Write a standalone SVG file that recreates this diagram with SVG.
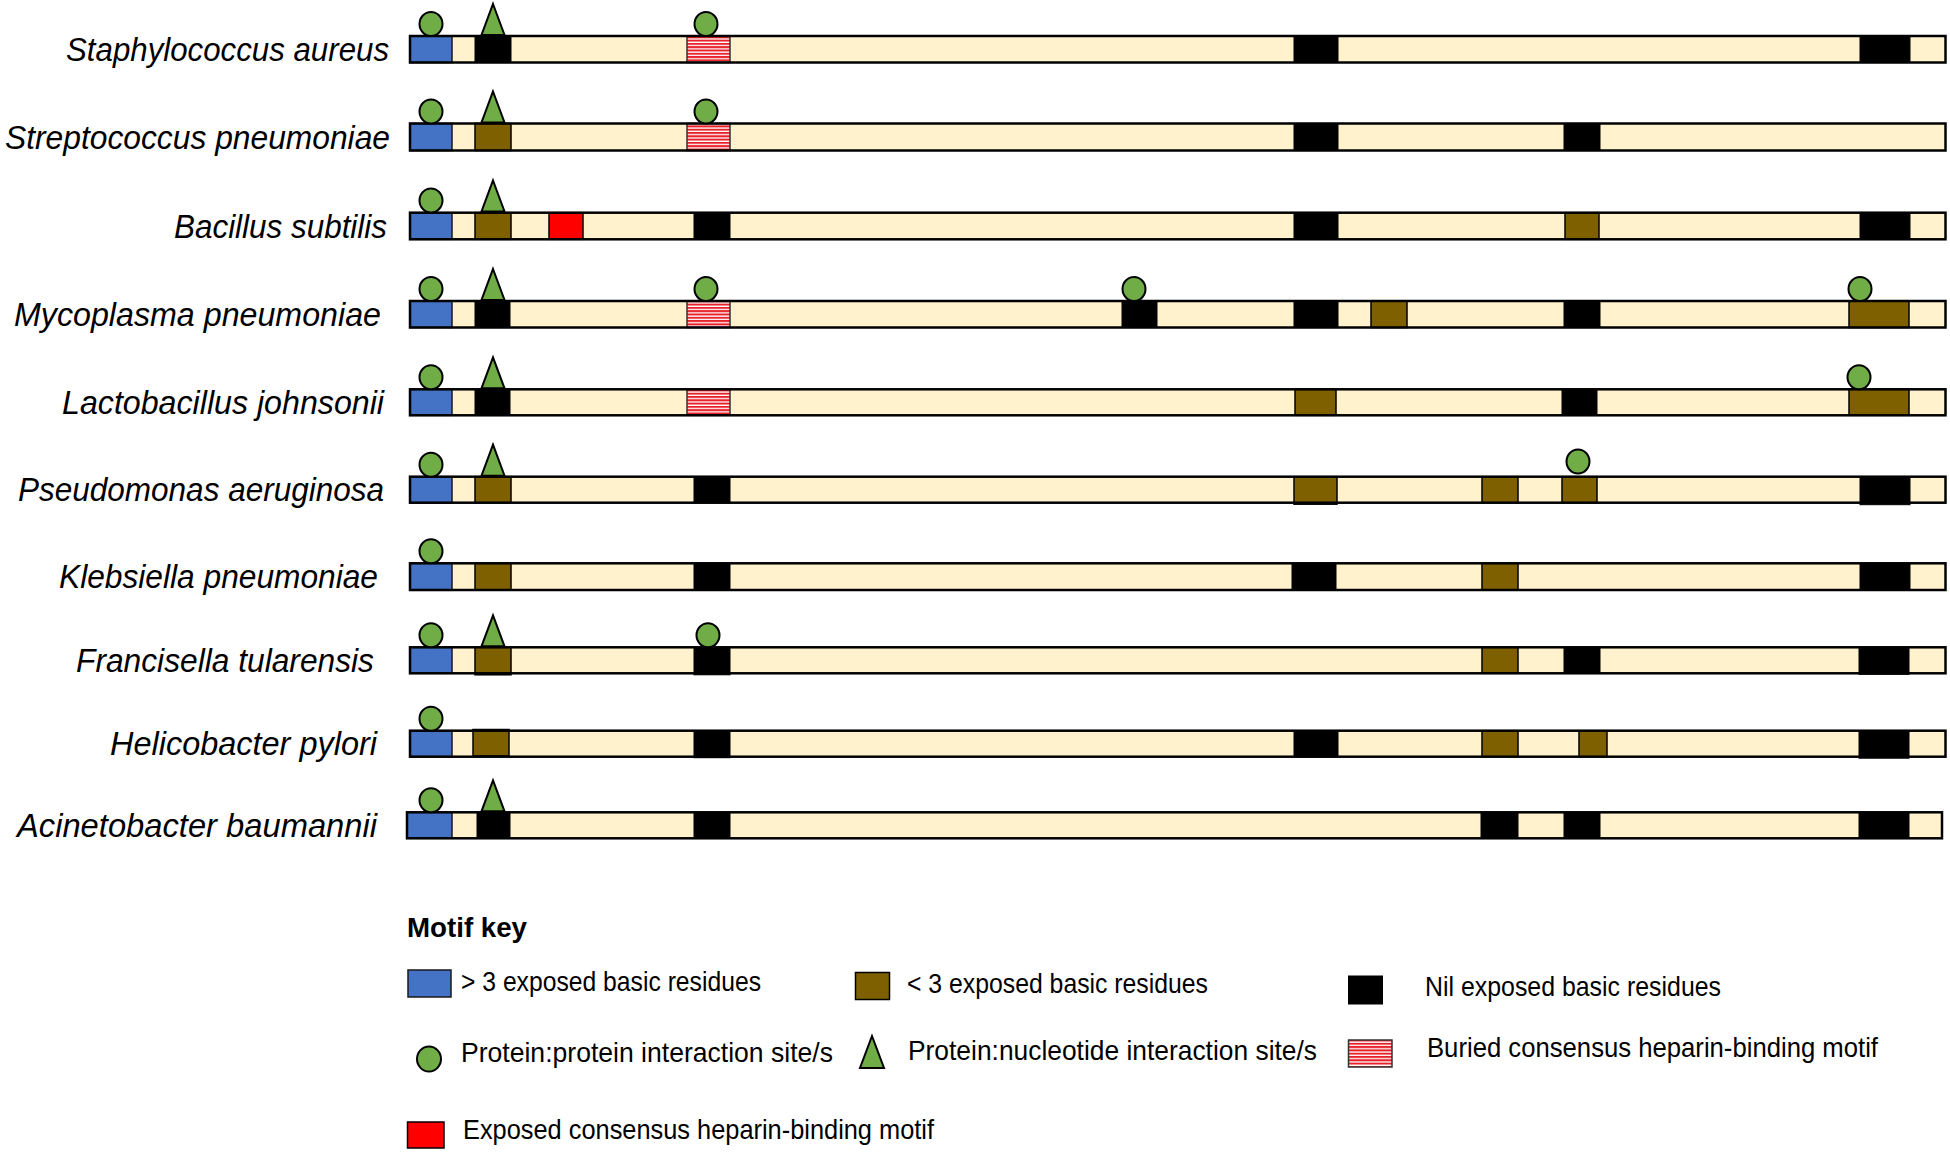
<svg xmlns="http://www.w3.org/2000/svg" xmlns:xlink="http://www.w3.org/1999/xlink" width="1950" height="1153" viewBox="0 0 1950 1153">
<defs>
<pattern id="stripes" patternUnits="userSpaceOnUse" width="10" height="3.3">
<rect x="0" y="0" width="10" height="3.3" fill="#FFFFFF"/>
<rect x="0" y="0" width="10" height="2" fill="#E8202A"/>
</pattern>
<ellipse id="ppi" cx="0" cy="0" rx="11.5" ry="12" class="green"/>
<path id="pni" d="M0,-31 L11.5,0 L-11.5,0 Z" class="green"/>
</defs>
<style>
.bar{fill:#FFF2CC;stroke:none}
.outline{fill:none;stroke:#000;stroke-width:2.5}
.blue{fill:#4472C4;stroke:#1A1A1A;stroke-width:1.5}
.brown{fill:#7F6000;stroke:#000;stroke-width:1.5}
.nil{fill:#000;stroke:#000;stroke-width:1}
.red{fill:#FF0000;stroke:#000;stroke-width:1.5}
.hep{fill:url(#stripes);stroke:#333;stroke-width:1.5}
.green{fill:#70AD47;stroke:#000;stroke-width:2}
.sp{font-family:"Liberation Sans",Arial,sans-serif;font-style:italic;font-size:33px;fill:#000;text-anchor:end}
.key{font-family:"Liberation Sans",Arial,sans-serif;font-size:28px;fill:#000}
.title{font-family:"Liberation Sans",Arial,sans-serif;font-size:28px;font-weight:bold;fill:#000}
</style>
<rect x="0" y="0" width="1950" height="1153" fill="#FFFFFF"/>

<g id="connectors"></g>

<g id="row-staphylococcus-aureus">
<text class="sp" x="389" y="61" textLength="323" lengthAdjust="spacingAndGlyphs">Staphylococcus aureus</text>
<rect class="bar" x="410" y="36" width="1535.5" height="26.5"/>
<rect class="blue" x="410" y="36" width="42" height="26.5"/>
<rect class="nil" x="475" y="36" width="36" height="26.5"/>
<rect class="hep" x="687" y="36" width="43" height="26.5"/>
<rect class="nil" x="1294" y="36" width="44" height="26.5"/>
<rect class="nil" x="1860" y="36" width="50" height="26.5"/>
<rect class="outline" x="410" y="36" width="1535.5" height="26.5"/>
<use xlink:href="#ppi" x="431" y="24"/>
<use xlink:href="#pni" x="493" y="35"/>
<use xlink:href="#ppi" x="706" y="24"/>
</g>

<g id="row-streptococcus-pneumoniae">
<text class="sp" x="390" y="149" textLength="385" lengthAdjust="spacingAndGlyphs">Streptococcus pneumoniae</text>
<rect class="bar" x="410" y="123.5" width="1535.5" height="27"/>
<rect class="blue" x="410" y="123.5" width="42" height="27"/>
<rect class="brown" x="475" y="123.5" width="36" height="27"/>
<rect class="hep" x="687" y="123.5" width="43" height="27"/>
<rect class="nil" x="1294" y="123.5" width="44" height="27"/>
<rect class="nil" x="1564" y="123.5" width="36" height="27"/>
<rect class="outline" x="410" y="123.5" width="1535.5" height="27"/>
<use xlink:href="#ppi" x="431" y="111.5"/>
<use xlink:href="#pni" x="493" y="122.5"/>
<use xlink:href="#ppi" x="706" y="111.5"/>
</g>

<g id="row-bacillus-subtilis">
<text class="sp" x="387" y="237.5" textLength="213" lengthAdjust="spacingAndGlyphs">Bacillus subtilis</text>
<rect class="bar" x="410" y="212.7" width="1535.5" height="26.6"/>
<rect class="blue" x="410" y="212.7" width="42" height="26.6"/>
<rect class="brown" x="475" y="212.7" width="36" height="26.6"/>
<rect class="red" x="549" y="212.7" width="34" height="26.6"/>
<rect class="nil" x="694" y="212.7" width="36" height="26.6"/>
<rect class="nil" x="1294" y="212.7" width="44" height="26.6"/>
<rect class="brown" x="1565" y="212.7" width="34" height="26.6"/>
<rect class="nil" x="1860" y="212.7" width="50" height="26.6"/>
<rect class="outline" x="410" y="212.7" width="1535.5" height="26.6"/>
<use xlink:href="#ppi" x="431" y="200.5"/>
<use xlink:href="#pni" x="493" y="211.5"/>
</g>

<g id="row-mycoplasma-pneumoniae">
<text class="sp" x="381" y="325.5" textLength="367" lengthAdjust="spacingAndGlyphs">Mycoplasma pneumoniae</text>
<rect class="bar" x="410" y="301" width="1535.5" height="26.5"/>
<rect class="blue" x="410" y="301" width="42" height="26.5"/>
<rect class="nil" x="475" y="301" width="35" height="26.5"/>
<rect class="hep" x="687" y="301" width="43" height="26.5"/>
<rect class="nil" x="1122" y="301" width="35" height="26.5"/>
<rect class="nil" x="1294" y="301" width="44" height="26.5"/>
<rect class="brown" x="1371" y="301" width="36" height="26.5"/>
<rect class="nil" x="1564" y="301" width="36" height="26.5"/>
<rect class="brown" x="1849" y="301" width="60" height="26.5"/>
<rect class="outline" x="410" y="301" width="1535.5" height="26.5"/>
<use xlink:href="#ppi" x="431" y="289"/>
<use xlink:href="#pni" x="493" y="300"/>
<use xlink:href="#ppi" x="706" y="289"/>
<use xlink:href="#ppi" x="1134" y="289"/>
<use xlink:href="#ppi" x="1860" y="289"/>
</g>

<g id="row-lactobacillus-johnsonii">
<text class="sp" x="384" y="413.5" textLength="322" lengthAdjust="spacingAndGlyphs">Lactobacillus johnsonii</text>
<rect class="bar" x="410" y="389.3" width="1535.5" height="26"/>
<rect class="blue" x="410" y="389.3" width="42" height="26"/>
<rect class="nil" x="475" y="389.3" width="35" height="26"/>
<rect class="hep" x="687" y="389.3" width="43" height="26"/>
<rect class="brown" x="1295" y="389.3" width="41" height="26"/>
<rect class="nil" x="1562" y="389.3" width="35" height="26"/>
<rect class="brown" x="1849" y="389.3" width="60" height="26"/>
<rect class="outline" x="410" y="389.3" width="1535.5" height="26"/>
<use xlink:href="#ppi" x="431" y="377.3"/>
<use xlink:href="#pni" x="493" y="388.3"/>
<use xlink:href="#ppi" x="1859" y="377.3"/>
</g>

<g id="row-pseudomonas-aeruginosa">
<text class="sp" x="384" y="501" textLength="366" lengthAdjust="spacingAndGlyphs">Pseudomonas aeruginosa</text>
<rect class="bar" x="410" y="476.7" width="1535.5" height="26"/>
<rect class="blue" x="410" y="476.7" width="42" height="26"/>
<rect class="brown" x="475" y="476.7" width="36" height="26"/>
<rect class="nil" x="694" y="476.7" width="36" height="26"/>
<rect class="brown" x="1294" y="476.7" width="43" height="27.5"/>
<rect class="brown" x="1482" y="476.7" width="36" height="26"/>
<rect class="brown" x="1562" y="476.7" width="35" height="26"/>
<rect class="nil" x="1860" y="476.7" width="50" height="28"/>
<rect class="outline" x="410" y="476.7" width="1535.5" height="26"/>
<use xlink:href="#ppi" x="431" y="464.7"/>
<use xlink:href="#pni" x="493" y="475.7"/>
<use xlink:href="#ppi" x="1578" y="461.5"/>
</g>

<g id="row-klebsiella-pneumoniae">
<text class="sp" x="378" y="588" textLength="319" lengthAdjust="spacingAndGlyphs">Klebsiella pneumoniae</text>
<rect class="bar" x="410" y="563.3" width="1535.5" height="26.7"/>
<rect class="blue" x="410" y="563.3" width="42" height="27"/>
<rect class="brown" x="475" y="563.3" width="36" height="26.7"/>
<rect class="nil" x="694" y="563.3" width="36" height="26.7"/>
<rect class="nil" x="1292" y="563.3" width="44" height="26.7"/>
<rect class="brown" x="1482" y="563.3" width="36" height="26.7"/>
<rect class="nil" x="1860" y="563.3" width="50" height="26.7"/>
<rect class="outline" x="410" y="563.3" width="1535.5" height="26.7"/>
<use xlink:href="#ppi" x="431" y="551.3"/>
</g>

<g id="row-francisella-tularensis">
<text class="sp" x="374" y="671.5" textLength="298" lengthAdjust="spacingAndGlyphs">Francisella tularensis</text>
<rect class="bar" x="410" y="647.3" width="1535.5" height="26"/>
<rect class="blue" x="410" y="647.3" width="42" height="26"/>
<rect class="brown" x="475" y="647.3" width="36" height="27.5"/>
<rect class="nil" x="694" y="647.3" width="36" height="27.5"/>
<rect class="brown" x="1482" y="647.3" width="36" height="26"/>
<rect class="nil" x="1564" y="647.3" width="36" height="26"/>
<rect class="nil" x="1859" y="647.3" width="50" height="27"/>
<rect class="outline" x="410" y="647.3" width="1535.5" height="26"/>
<use xlink:href="#ppi" x="431" y="635.3"/>
<use xlink:href="#pni" x="493" y="646.3"/>
<use xlink:href="#ppi" x="708" y="635.3"/>
</g>

<g id="row-helicobacter-pylori">
<text class="sp" x="377" y="755" textLength="267" lengthAdjust="spacingAndGlyphs">Helicobacter pylori</text>
<rect class="bar" x="410" y="730.7" width="1535.5" height="26"/>
<rect class="blue" x="410" y="730.7" width="42" height="26"/>
<rect class="brown" x="473" y="729.5" width="36" height="26.5"/>
<rect class="nil" x="694" y="730.7" width="36" height="27"/>
<rect class="nil" x="1294" y="730.7" width="44" height="26"/>
<rect class="brown" x="1482" y="730.7" width="36" height="26"/>
<rect class="brown" x="1579" y="730.7" width="28" height="26"/>
<rect class="nil" x="1859" y="730.7" width="50" height="27.5"/>
<rect class="outline" x="410" y="730.7" width="1535.5" height="26"/>
<use xlink:href="#ppi" x="431" y="718.7"/>
</g>

<g id="row-acinetobacter-baumannii">
<text class="sp" x="377" y="836.5" textLength="360" lengthAdjust="spacingAndGlyphs">Acinetobacter baumannii</text>
<rect class="bar" x="407" y="812.3" width="1535" height="26"/>
<rect class="blue" x="407" y="812.3" width="45" height="26"/>
<rect class="nil" x="477" y="812.3" width="33" height="26"/>
<rect class="nil" x="694" y="812.3" width="36" height="26"/>
<rect class="nil" x="1481" y="812.3" width="37" height="26"/>
<rect class="nil" x="1564" y="812.3" width="36" height="26"/>
<rect class="nil" x="1859" y="812.3" width="50" height="26"/>
<rect class="outline" x="407" y="812.3" width="1535" height="26"/>
<use xlink:href="#ppi" x="431" y="800.3"/>
<use xlink:href="#pni" x="493" y="811.3"/>
</g>

<g id="legend">
<text class="title" x="407" y="936.5" textLength="120" lengthAdjust="spacingAndGlyphs">Motif key</text>
<g id="key-high">
<rect class="blue" x="408" y="970" width="43" height="27"/>
<text class="key" x="461" y="991" textLength="300" lengthAdjust="spacingAndGlyphs">&gt; 3 exposed basic residues</text>
</g>
<g id="key-low">
<rect class="brown" x="855.5" y="972.5" width="34" height="27"/>
<text class="key" x="907" y="993" textLength="301" lengthAdjust="spacingAndGlyphs">&lt; 3 exposed basic residues</text>
</g>
<g id="key-nil">
<rect class="nil" x="1348.5" y="976" width="34" height="28"/>
<text class="key" x="1425" y="996" textLength="296" lengthAdjust="spacingAndGlyphs">Nil exposed basic residues</text>
</g>
<g id="key-ppi">
<ellipse class="green" cx="429" cy="1059" rx="12" ry="12.5"/>
<text class="key" x="461" y="1062" textLength="372" lengthAdjust="spacingAndGlyphs">Protein:protein interaction site/s</text>
</g>
<g id="key-pni">
<path class="green" d="M872,1036 L884,1068 L860,1068 Z"/>
<text class="key" x="908" y="1060" textLength="409" lengthAdjust="spacingAndGlyphs">Protein:nucleotide interaction site/s</text>
</g>
<g id="key-buried">
<rect class="hep" x="1348.5" y="1040" width="43.5" height="27"/>
<text class="key" x="1427" y="1057" textLength="451" lengthAdjust="spacingAndGlyphs">Buried consensus heparin-binding motif</text>
</g>
<g id="key-exposed">
<rect class="red" x="407.5" y="1122" width="36.5" height="26"/>
<text class="key" x="463" y="1139" textLength="471" lengthAdjust="spacingAndGlyphs">Exposed consensus heparin-binding motif</text>
</g>
</g>
</svg>
